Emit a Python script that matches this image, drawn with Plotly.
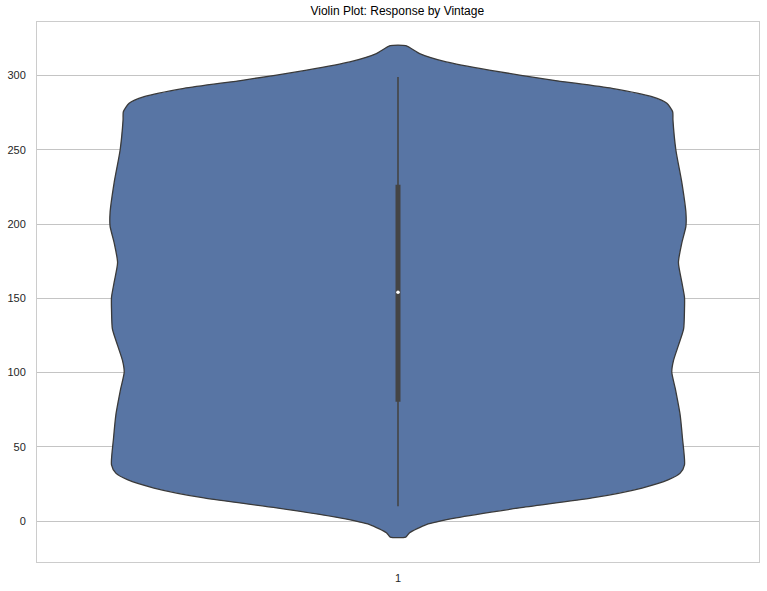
import plotly.graph_objects as go

# Violin profile (value on y axis, relative density 0..1)
profile_values = [-10.7, -7.8, -2.3, 2.2, 8.9, 15.6, 22.3, 27.9, 32.3, 37.9, 55.8, 71.4,
                  89.3, 100.4, 108.2, 118.3, 129.4, 142.8, 150.7, 160.7, 174.1, 187.5,
                  198.6, 207.6, 227.7, 250.0, 270.1, 275.6, 281.3, 285.7, 291.3, 296.9,
                  303.6, 309.1, 314.7, 320.1]
profile_density = [0.027, 0.040, 0.098, 0.201, 0.420, 0.672, 0.845, 0.937, 0.977, 0.992,
                   0.985, 0.977, 0.960, 0.948, 0.954, 0.971, 0.989, 0.992, 0.992, 0.983,
                   0.971, 0.983, 0.997, 0.997, 0.983, 0.962, 0.952, 0.951, 0.931, 0.879,
                   0.741, 0.534, 0.316, 0.167, 0.075, 0.027]

category_labels = ["1"]
whisker_low, q1, median, q3, whisker_high = 10.0, 80.4, 154.0, 226.5, 299.0

y_ticks = [0, 50, 100, 150, 200, 250, 300]

half_max = 0.4
xr = [half_max * d for d in profile_density]
xl = [-half_max * d for d in profile_density]

outline_x = xr + xl[::-1] + [xr[0]]
outline_y = profile_values + profile_values[::-1] + [profile_values[0]]

fig = go.Figure()
fig.add_trace(go.Scatter(
    x=outline_x, y=outline_y, mode="lines", fill="toself",
    fillcolor="#5875a4", line=dict(color="#3a3a3a", width=1.3, shape="spline", smoothing=0.6),
    hoverinfo="skip", showlegend=False))
fig.add_trace(go.Scatter(
    x=[0, 0], y=[whisker_low, whisker_high], mode="lines",
    line=dict(color="#444444", width=1.6), showlegend=False, hoverinfo="skip"))
fig.add_trace(go.Scatter(
    x=[0, 0], y=[q1, q3], mode="lines",
    line=dict(color="#444444", width=5), showlegend=False, hoverinfo="skip"))
fig.add_trace(go.Scatter(
    x=[0], y=[median], mode="markers",
    marker=dict(color="white", size=3.5, line=dict(width=0)), showlegend=False))

axis_font = dict(family="Liberation Sans, Arial, sans-serif", size=11, color="#262626")

fig.update_layout(
    width=767, height=591,
    margin=dict(l=35, r=7, t=22, b=27),
    paper_bgcolor="white", plot_bgcolor="white",
    title=dict(text="Violin Plot: Response by Vintage", x=0.518, xanchor="center",
               y=1 - 11 / 591, yanchor="middle", yref="container",
               font=dict(family="Liberation Sans, Arial, sans-serif", size=12, color="black")),
    xaxis=dict(range=[-0.5, 0.5], tickvals=[0], ticktext=category_labels,
               showgrid=False, zeroline=False, showline=True, linecolor="#cccccc",
               linewidth=1, mirror=True, ticks="", tickfont=axis_font, ticklabelstandoff=6),
    yaxis=dict(range=[-27.5, 336.0], tickvals=y_ticks, showgrid=True, gridcolor="#c4c4c4",
               gridwidth=1, zeroline=False, showline=True, linecolor="#cccccc", linewidth=1,
               mirror=True, ticks="", tickfont=axis_font, ticklabelstandoff=8),
)

fig.write_html("out.html")
